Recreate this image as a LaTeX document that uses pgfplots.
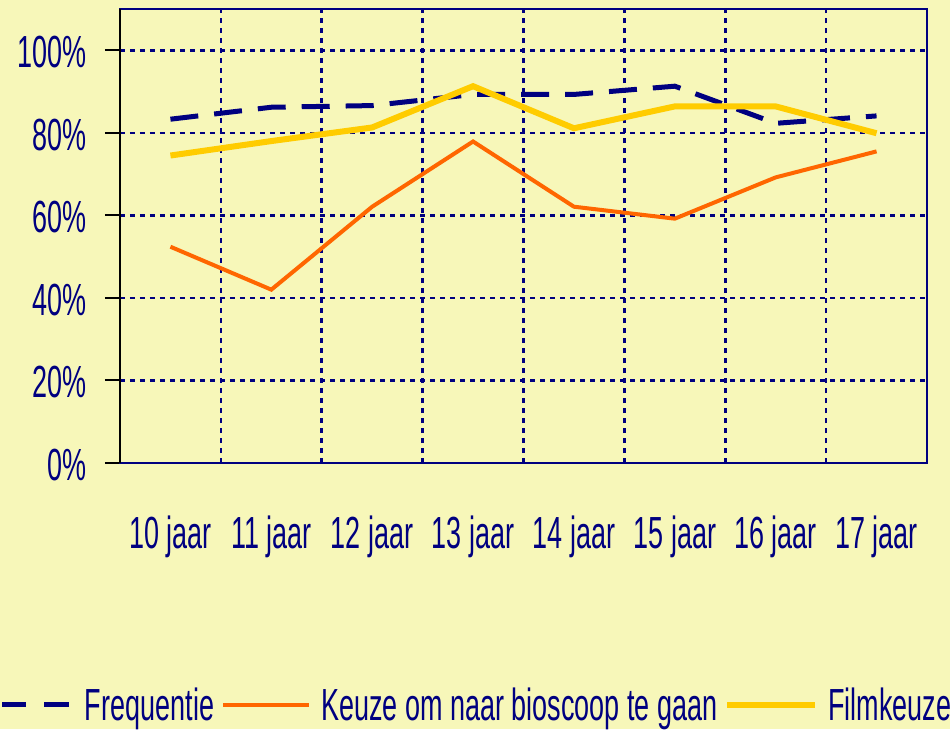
\documentclass[border=0pt]{standalone}
\usepackage{fontspec}
\setmainfont{Liberation Sans}[FakeStretch=0.6]
\usepackage{pgfplots}
\pgfplotsset{compat=1.18}
\definecolor{bgy}{RGB}{247,247,185}
\definecolor{navy}{RGB}{0,0,128}
\definecolor{lorange}{RGB}{255,102,0}
\definecolor{lyellow}{RGB}{255,204,0}
\newcommand{\bigf}{\fontsize{45}{54}\selectfont}
\pgfplotsset{
  limg/.style={legend image code/.code={\draw[##1] (0pt,0pt) -- (#1,0pt);}},
  limgd/.style={legend image code/.code={\draw[##1, dash pattern=on 24pt off 18pt] (0pt,0pt) -- (#1,0pt);}},
}
\begin{document}
\begin{tikzpicture}
\path[use as bounding box, fill=bgy] (-120pt,-266pt) rectangle (830pt,463pt);
\begin{axis}[
  at={(0,0)}, anchor=south west, scale only axis,
  width=807pt, height=454pt,
  xmin=-0.5, xmax=7.5, ymin=0, ymax=110,
  xtick={0,...,7},
  xticklabels={10 jaar,11 jaar,12 jaar,13 jaar,14 jaar,15 jaar,16 jaar,17 jaar},
  major x tick style={draw=none},
  minor xtick={0.5,1.5,...,6.5}, xminorgrids, minor tick length=0pt,
  ytick={0,20,40,60,80,100},
  yticklabels={0\%,20\%,40\%,60\%,80\%,100\%},
  ymajorgrids,
  grid style={navy, line width=2.5pt, dash pattern=on 5pt off 5pt},
  minor grid style={navy, line width=2.5pt, dash pattern=on 5pt off 5pt},
  tick align=outside, ytick pos=left, xtick pos=bottom,
  major tick length=15pt,
  y tick style={black, line width=2pt},
  axis line style={navy, line width=2pt},
  tick label style={font=\bigf, text=navy, inner sep=0pt},
  xticklabel style={yshift=-38pt},
  yticklabel style={xshift=-18pt, yshift=-2pt},
  legend style={at={(axis description cs:-0.1487,-0.533)}, anchor=west,
    draw=none, fill=none, legend columns=-1, font=\bigf, text=navy,
    inner sep=0pt, outer sep=0pt,
    nodes={inner sep=0pt},
    /tikz/every odd column/.append style={column sep=10pt},
    /tikz/every even column/.append style={column sep=7pt},
    /tikz/column 1/.append style={column sep=17pt}},
  clip=false,
]
\addplot[navy, line width=5pt, dash pattern=on 28pt off 16pt, limgd=70pt]
  coordinates {(0,83.3) (1,86.2) (2,86.6) (3,89.3) (4,89.3) (5,91.3) (6,82.3) (7,84.1)};
\addlegendentry{Frequentie}
\addplot[lorange, line width=4pt, limg=86pt]
  coordinates {(0,52.4) (1,42.0) (2,62.1) (3,77.9) (4,62.1) (5,59.2) (6,69.2) (7,75.5)};
\addlegendentry{Keuze om naar bioscoop te gaan}
\addplot[lyellow, line width=6pt, limg=88pt]
  coordinates {(0,74.5) (1,78.0) (2,81.3) (3,91.3) (4,81.1) (5,86.4) (6,86.4) (7,79.9)};
\addlegendentry{Filmkeuze}
\draw[black, line width=2.5pt] (rel axis cs:0,0) -- (rel axis cs:0,1);
\end{axis}
\end{tikzpicture}
\end{document}
